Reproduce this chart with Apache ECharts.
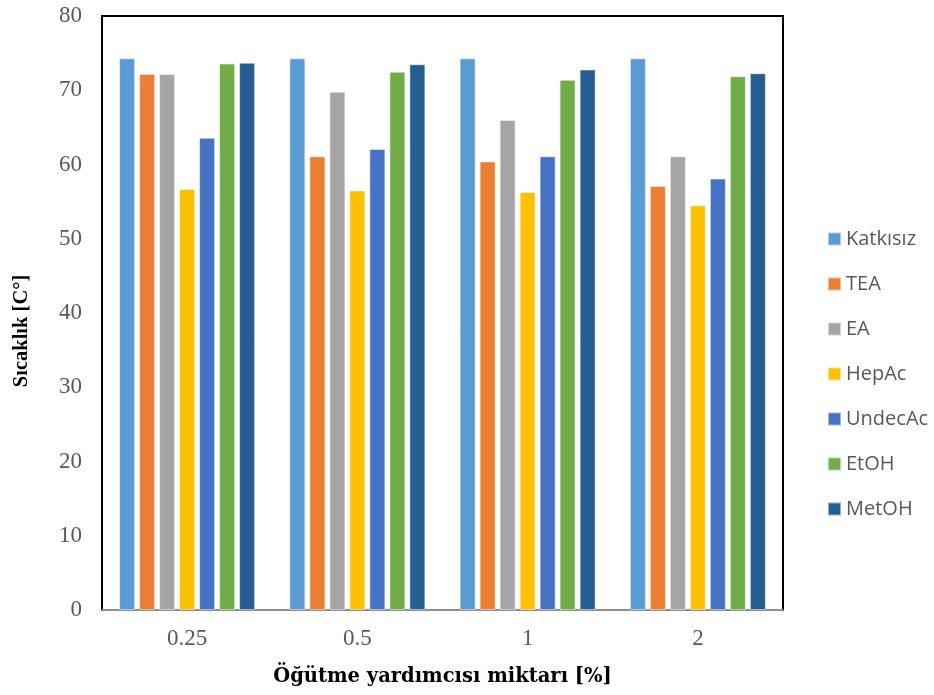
<!DOCTYPE html>
<html>
<head>
<meta charset="utf-8">
<script src="https://cdn.jsdelivr.net/npm/echarts@6/dist/echarts.min.js"></script>
<style>html,body{margin:0;padding:0;background:#fff}#c{width:934px;height:695px}</style>
</head>
<body>
<div id="c"></div>
<script>
const categories = ['0.25', '0.5', '1', '2'];
const seriesNames = ['Katkısız', 'TEA', 'EA', 'HepAc', 'UndecAc', 'EtOH', 'MetOH'];
const katkisiz = [74.3, 74.3, 74.3, 74.3];
const tea = [72.2, 61.1, 60.4, 57.1];
const ea = [72.2, 69.8, 66.0, 61.1];
const hepac = [56.7, 56.5, 56.3, 54.5];
const undecac = [63.6, 62.1, 61.1, 58.1];
const etoh = [73.6, 72.5, 71.4, 71.9];
const metoh = [73.7, 73.5, 72.8, 72.3];
const yTitle = 'Sıcaklık [C°]';
const xTitle = 'Öğütme yardımcısı miktarı [%]';
const colors = ['#5B9BD5', '#ED7D31', '#A5A5A5', '#FFC000', '#4472C4', '#70AD47', '#255E91'];
const values = [katkisiz, tea, ea, hepac, undecac, etoh, metoh];

const chart = echarts.init(document.getElementById('c'));
chart.setOption({
  animation: false,
  backgroundColor: '#fff',
  grid: { left: 102, top: 16, right: 151, bottom: 85, show: true, borderColor: '#000', borderWidth: 2, backgroundColor: 'transparent' },
  legend: {
    orient: 'vertical', left: 822, top: 224,
    itemWidth: 13, itemHeight: 13, itemGap: 25,
    icon: 'rect',
    textStyle: { fontFamily: 'Open Sans', fontSize: 20, color: '#595959' },
    data: seriesNames
  },
  graphic: [{
    type: 'text', x: 22, y: 331, rotation: Math.PI / 2,
    style: { text: yTitle, fontFamily: 'Liberation Serif', fontWeight: 'bold', fontSize: 20.5, fill: '#000', textAlign: 'center', textVerticalAlign: 'middle' }
  }],
  xAxis: {
    type: 'category', data: categories,
    axisLine: { show: true, lineStyle: { color: '#BFBFBF', width: 1.5 } },
    axisTick: { show: false },
    axisLabel: { fontFamily: 'Liberation Serif', fontSize: 23, color: '#595959', margin: 17 },
    name: xTitle, nameLocation: 'middle', nameGap: 57,
    nameTextStyle: { fontFamily: 'DejaVu Serif', fontWeight: 'bold', fontSize: 19.5, color: '#000' }
  },
  yAxis: {
    type: 'value', min: 0, max: 80, interval: 10,
    axisLine: { show: false }, axisTick: { show: false }, splitLine: { show: false },
    axisLabel: { fontFamily: 'Liberation Serif', fontSize: 23, color: '#595959', margin: 20 }
  },
  series: seriesNames.map((n, i) => ({
    name: n, type: 'bar', data: values[i],
    barWidth: 16, barGap: '25%',
    itemStyle: { color: colors[i], borderColor: 'rgba(255,255,255,0.5)', borderWidth: 1 }
  }))
});
</script>
</body>
</html>
